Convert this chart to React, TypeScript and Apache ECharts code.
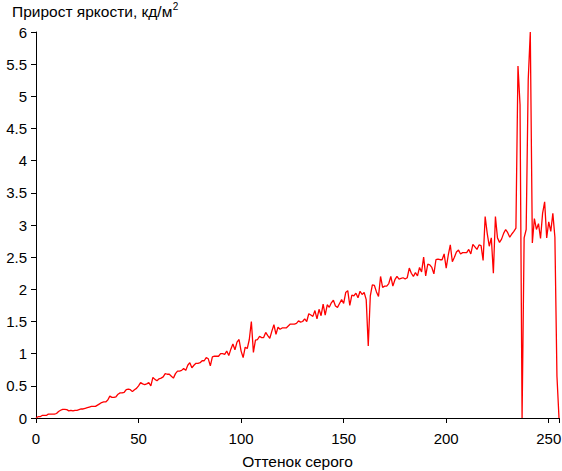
import React, { useEffect, useRef } from "react";
import * as echarts from "echarts";

const TITLE_TEXT = "Прирост яркости, кд/м";
const TITLE_SUP = "2";
const X_NAME = "Оттенок серого";
const X_TICKS = [0, 50, 100, 150, 200, 250];
const Y_TICKS = [0, 0.5, 1, 1.5, 2, 2.5, 3, 3.5, 4, 4.5, 5, 5.5, 6];

// brightness increment per gray level (index = gray level 0..255)
const INCREMENTS = [
  0.0, 0.02, 0.02, 0.04, 0.04, 0.04, 0.06, 0.06, 0.06, 0.06,
  0.07, 0.1, 0.12, 0.135, 0.135, 0.13, 0.11, 0.12, 0.11, 0.12,
  0.12, 0.13, 0.14, 0.14, 0.15, 0.16, 0.17, 0.18, 0.18, 0.18,
  0.2, 0.22, 0.24, 0.25, 0.25, 0.28, 0.34, 0.32, 0.32, 0.33,
  0.37, 0.39, 0.39, 0.4, 0.44, 0.45, 0.44, 0.41, 0.44, 0.46,
  0.5, 0.55, 0.53, 0.52, 0.53, 0.55, 0.5, 0.63, 0.6, 0.58,
  0.61, 0.62, 0.64, 0.69, 0.68, 0.68, 0.65, 0.62, 0.69, 0.73,
  0.73, 0.74, 0.77, 0.74, 0.82, 0.86, 0.78, 0.82, 0.85, 0.85,
  0.86, 0.89, 0.89, 0.94, 0.92, 0.81, 0.95, 0.96, 0.96, 0.96,
  1.0, 1.0, 0.99, 1.04, 0.97, 1.07, 1.15, 1.06, 1.18, 1.22,
  1.04, 0.94, 1.1, 1.08, 1.22, 1.5, 1.02, 1.21, 1.22, 1.27,
  1.25, 1.25, 1.33, 1.28, 1.24, 1.35, 1.45, 1.3, 1.41, 1.38,
  1.4, 1.4, 1.4, 1.43, 1.46, 1.46, 1.46, 1.47, 1.51, 1.49,
  1.5, 1.54, 1.5, 1.62, 1.6, 1.58, 1.67, 1.54, 1.69, 1.59,
  1.77, 1.6, 1.76, 1.72, 1.79, 1.83, 1.74, 1.72, 1.78, 1.84,
  1.78, 1.95, 1.98, 1.75, 1.91, 1.9, 1.94, 1.87, 1.97, 1.92,
  1.95, 1.84, 1.12, 1.9, 2.07, 2.06, 1.96, 1.89, 2.2, 2.03,
  2.05, 2.05, 2.09, 2.2, 2.05, 2.15, 2.2, 2.16, 2.17, 2.18,
  2.16, 2.18, 2.33, 2.25, 2.2, 2.26, 2.21, 2.34, 2.27, 2.5,
  2.21, 2.39, 2.38, 2.34, 2.24, 2.46, 2.47, 2.46, 2.46, 2.55,
  2.33, 2.53, 2.69, 2.43, 2.5, 2.58, 2.61, 2.55, 2.57, 2.57,
  2.57, 2.62, 2.55, 2.7, 2.66, 2.62, 2.69, 2.68, 2.45, 3.13,
  2.87, 2.67, 2.8, 2.25, 3.13, 2.8, 2.73, 2.78, 2.87, 2.93,
  2.88, 2.81, 2.86, 2.9, 2.95, 5.47, 4.87, 0.0, 2.8, 2.93,
  5.26, 6.0, 2.72, 3.1, 2.93, 3.02, 2.79, 3.18, 3.36, 2.8,
  3.05, 2.9, 3.18, 2.81, 0.65, 0.0,
];

const FONT = "'Liberation Sans', Arial, sans-serif";

export default function App() {
  const ref = useRef<HTMLDivElement>(null);

  useEffect(() => {
    if (!ref.current) return;
    const chart = echarts.init(ref.current, undefined, { renderer: "svg" });

    const titleSize = 15.5;
    let titleW = 160;
    try {
      const ctx = document.createElement("canvas").getContext("2d");
      if (ctx) {
        ctx.font = titleSize + "px 'Liberation Sans', Arial, sans-serif";
        titleW = ctx.measureText(TITLE_TEXT).width;
      }
    } catch (e) {}

    const data = INCREMENTS.map((v, i) => [i, v]);

    chart.setOption({
      animation: false,
      backgroundColor: "#ffffff",
      textStyle: { fontFamily: FONT },
      grid: {
        left: 36,
        right: 3,
        top: 32,
        bottom: 53,
        containLabel: false,
        outerBoundsMode: "none",
      },
      graphic: [
        {
          type: "text",
          left: 12,
          top: 3,
          style: { text: TITLE_TEXT, fontSize: titleSize, fill: "#000", fontFamily: FONT },
        },
        {
          type: "text",
          left: 12 + titleW + 0.5,
          top: 1,
          style: { text: TITLE_SUP, fontSize: 10, fill: "#000", fontFamily: FONT },
        },
      ],
      xAxis: {
        type: "value",
        min: 0,
        max: 255,
        interval: 50,
        name: X_NAME,
        nameLocation: "middle",
        nameGap: 35,
        nameTextStyle: { fontSize: 15.5, color: "#000", fontFamily: FONT },
        axisLine: { show: true, lineStyle: { color: "#000", width: 1 } },
        axisTick: { show: true, length: 5, lineStyle: { color: "#000" } },
        axisLabel: {
          fontSize: 15,
          color: "#000",
          margin: 13,
          fontFamily: FONT,
          formatter: (v: number) => (X_TICKS.includes(v) ? String(v) : ""),
        },
        splitLine: { show: false },
      },
      yAxis: {
        type: "value",
        min: 0,
        max: 6,
        interval: 0.5,
        axisLine: { show: true, lineStyle: { color: "#000", width: 1 } },
        axisTick: { show: true, length: 5, lineStyle: { color: "#000" } },
        axisLabel: {
          fontSize: 15,
          color: "#000",
          margin: 9,
          fontFamily: FONT,
          formatter: (v: number) => (Y_TICKS.includes(v) ? String(v) : ""),
        },
        splitLine: { show: false },
      },
      series: [
        {
          type: "line",
          data,
          showSymbol: false,
          symbol: "none",
          lineStyle: { color: "#ff0000", width: 1.3 },
          itemStyle: { color: "#ff0000" },
        },
      ],
    });

    return () => chart.dispose();
  }, []);

  return (
    <div
      ref={ref}
      style={{ position: "absolute", left: 0, top: 0, width: 562, height: 471 }}
    />
  );
}
